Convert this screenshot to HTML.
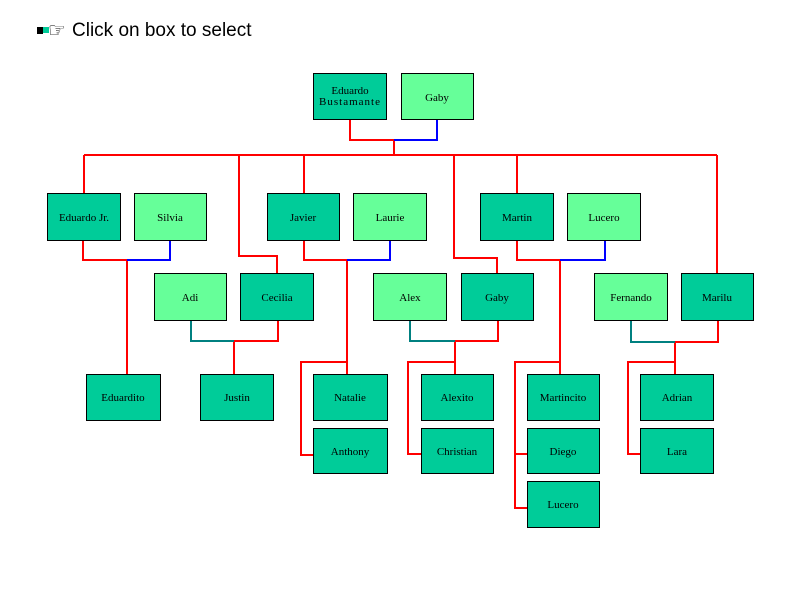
<!DOCTYPE html>
<html><head><meta charset="utf-8"><style>
body{margin:0;background:#fff;width:800px;height:600px;overflow:hidden}
svg text{font-family:"Liberation Serif",serif;font-size:11px;fill:#000}
</style></head><body>
<svg width="800" height="600" xmlns="http://www.w3.org/2000/svg">
<rect x="37" y="27" width="6" height="7" fill="#000"/><rect x="43" y="27" width="6" height="6" fill="#00cc99"/>
<text x="48" y="37" style="font-family:'DejaVu Sans',sans-serif;font-size:20px">☞</text>
<text x="72" y="36" style="font-family:'Liberation Sans',sans-serif;font-size:19px">Click on box to select</text>
<g fill="none" stroke-width="2">
<g stroke="#f00">
<polyline points="350,119 350,140 394,140"/><line x1="394" y1="140" x2="394" y2="155"/>
<line x1="84" y1="155" x2="717" y2="155"/>
<line x1="84" y1="155" x2="84" y2="193"/>
<polyline points="239,155 239,256 277,256 277,273"/>
<line x1="304" y1="155" x2="304" y2="193"/>
<polyline points="454,155 454,258 497,258 497,273"/>
<line x1="517" y1="155" x2="517" y2="193"/>
<line x1="717" y1="155" x2="717" y2="273"/>
<polyline points="83,240 83,260 127,260 127,374"/>
<polyline points="278,320 278,341 234,341 234,374"/>
<polyline points="304,240 304,260 347,260 347,374"/>
<polyline points="347,362 301,362 301,455 313,455"/>
<polyline points="498,320 498,341 455,341 455,374"/>
<polyline points="455,362 408,362 408,454 421,454"/>
<polyline points="517,240 517,260 560,260 560,374"/>
<polyline points="560,362 515,362 515,508 527,508"/><line x1="515" y1="454" x2="527" y2="454"/>
<polyline points="718,320 718,342 675,342 675,374"/>
<polyline points="675,362 628,362 628,454 640,454"/>
</g>
<g stroke="#00f">
<polyline points="394,140 437,140 437,119"/>
<polyline points="127,260 170,260 170,240"/>
<polyline points="347,260 390,260 390,240"/>
<polyline points="560,260 605,260 605,240"/>
</g>
<g stroke="#008080">
<polyline points="191,320 191,341 234,341"/>
<polyline points="410,320 410,341 455,341"/>
<polyline points="631,320 631,342 675,342"/>
</g>
</g>
<g stroke="#000" stroke-width="1">
<rect x="313.5" y="73.5" width="73" height="46" fill="#00cc99"/>
<rect x="401.5" y="73.5" width="72" height="46" fill="#66ff99"/>
<rect x="47.5" y="193.5" width="73" height="47" fill="#00cc99"/>
<rect x="134.5" y="193.5" width="72" height="47" fill="#66ff99"/>
<rect x="267.5" y="193.5" width="72" height="47" fill="#00cc99"/>
<rect x="353.5" y="193.5" width="73" height="47" fill="#66ff99"/>
<rect x="480.5" y="193.5" width="73" height="47" fill="#00cc99"/>
<rect x="567.5" y="193.5" width="73" height="47" fill="#66ff99"/>
<rect x="154.5" y="273.5" width="72" height="47" fill="#66ff99"/>
<rect x="240.5" y="273.5" width="73" height="47" fill="#00cc99"/>
<rect x="373.5" y="273.5" width="73" height="47" fill="#66ff99"/>
<rect x="461.5" y="273.5" width="72" height="47" fill="#00cc99"/>
<rect x="594.5" y="273.5" width="73" height="47" fill="#66ff99"/>
<rect x="681.5" y="273.5" width="72" height="47" fill="#00cc99"/>
<rect x="86.5" y="374.5" width="74" height="46" fill="#00cc99"/>
<rect x="200.5" y="374.5" width="73" height="46" fill="#00cc99"/>
<rect x="313.5" y="374.5" width="74" height="46" fill="#00cc99"/>
<rect x="421.5" y="374.5" width="72" height="46" fill="#00cc99"/>
<rect x="527.5" y="374.5" width="72" height="46" fill="#00cc99"/>
<rect x="640.5" y="374.5" width="73" height="46" fill="#00cc99"/>
<rect x="313.5" y="428.5" width="74" height="45" fill="#00cc99"/>
<rect x="421.5" y="428.5" width="72" height="45" fill="#00cc99"/>
<rect x="527.5" y="428.5" width="72" height="45" fill="#00cc99"/>
<rect x="640.5" y="428.5" width="73" height="45" fill="#00cc99"/>
<rect x="527.5" y="481.5" width="72" height="46" fill="#00cc99"/>
</g>
<g text-anchor="middle">
<text x="350" y="94">Eduardo</text><text x="350" y="105" letter-spacing="1">Bustamante</text>
<text x="437" y="101">Gaby</text>
<text x="84" y="221">Eduardo Jr.</text><text x="170" y="221">Silvia</text>
<text x="303" y="221">Javier</text><text x="390" y="221">Laurie</text>
<text x="517" y="221">Martin</text><text x="604" y="221">Lucero</text>
<text x="190" y="301">Adi</text><text x="277" y="301">Cecilia</text>
<text x="410" y="301">Alex</text><text x="497" y="301">Gaby</text>
<text x="631" y="301">Fernando</text><text x="717" y="301">Marilu</text>
<text x="123" y="401">Eduardito</text><text x="237" y="401">Justin</text>
<text x="350" y="401">Natalie</text><text x="457" y="401">Alexito</text>
<text x="563" y="401">Martincito</text><text x="677" y="401">Adrian</text>
<text x="350" y="455">Anthony</text><text x="457" y="455">Christian</text>
<text x="563" y="455">Diego</text><text x="677" y="455">Lara</text>
<text x="563" y="508">Lucero</text>
</g>
</svg>
</body></html>
